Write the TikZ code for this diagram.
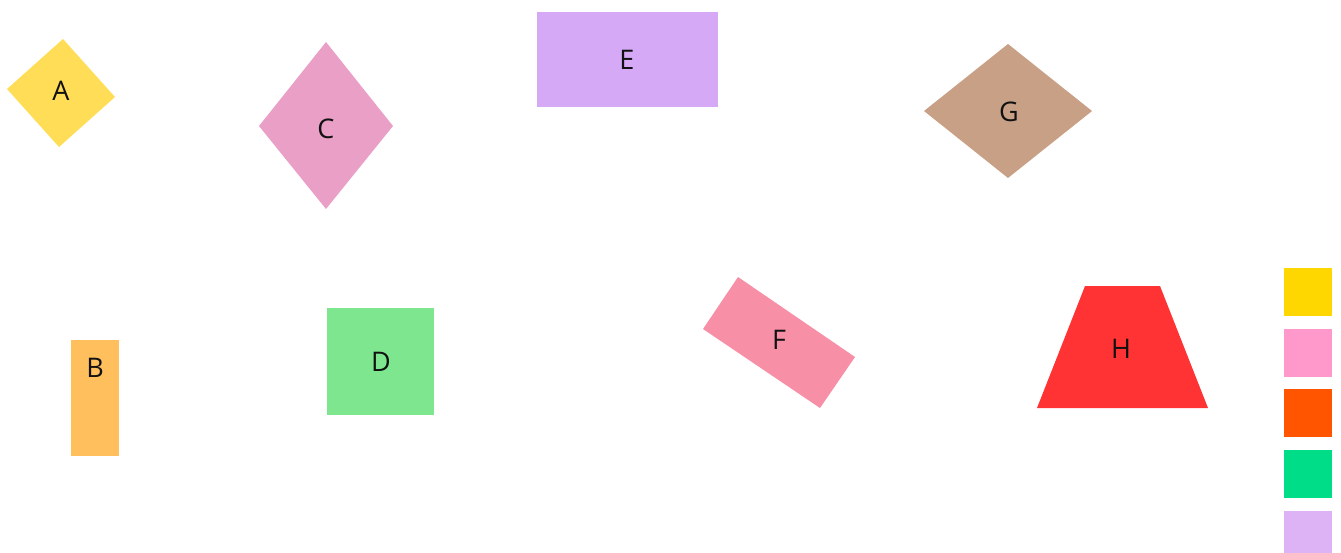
\documentclass[tikz,border=0pt]{standalone}
\usepackage{fontspec}
\setmainfont{Open Sans}
\definecolor{cA}{HTML}{FFDD57}
\definecolor{cB}{HTML}{FFBF5C}
\definecolor{cC}{HTML}{EA9FC6}
\definecolor{cD}{HTML}{7EE68E}
\definecolor{cE}{HTML}{D5A9F5}
\definecolor{cF}{HTML}{F78FA7}
\definecolor{cG}{HTML}{C8A086}
\definecolor{cH}{HTML}{FF3333}
\definecolor{lA}{HTML}{FFD700}
\definecolor{lB}{HTML}{FF99CC}
\definecolor{lC}{HTML}{FF5500}
\definecolor{lD}{HTML}{00DD88}
\definecolor{lE}{HTML}{DDB3F5}
\definecolor{ink}{HTML}{111111}
\begin{document}
\begin{tikzpicture}[x=1pt,y=-1pt,
  lbl/.style={font=\fontsize{27}{32}\selectfont,text=ink,inner sep=0pt},
  legsq/.style={minimum width=48pt,minimum height=48pt,inner sep=0pt,anchor=north west}]
\useasboundingbox (0,0) rectangle (1341,552);
% A
\fill[cA] (63,39) -- (115,97) -- (59,147) -- (7,89) -- cycle;
\node[lbl] (A) at (61,91) {A};
% C
\fill[cC] (326,42) -- (393,126) -- (326,209) -- (259,126) -- cycle;
\node[lbl] (C) at (326,129) {C};
% E
\fill[cE] (537,12) rectangle (718,107);
\node[lbl] (E) at (627,60) {E};
% G
\fill[cG] (1008,44) -- (1092,111) -- (1008,178) -- (924,111) -- cycle;
\node[lbl] (G) at (1009,112) {G};
% B
\fill[cB] (71,340) rectangle (119,456);
\node[lbl] (B) at (95,368) {B};
% D
\fill[cD] (327,308) rectangle (434,415);
\node[lbl] (D) at (381,362) {D};
% F
\fill[cF] (738,277) -- (855,357) -- (820,408) -- (703,329) -- cycle;
\node[lbl] (F) at (779,340) {F};
% H
\fill[cH] (1085,286) -- (1160,286) -- (1208,408) -- (1037,408) -- cycle;
\node[lbl] (H) at (1121,349) {H};
% legend
\node[legsq,fill=lA] (L1) at (1284,268) {};
\node[legsq,fill=lB] (L2) at (1284,329) {};
\node[legsq,fill=lC] (L3) at (1284,389) {};
\node[legsq,fill=lD] (L4) at (1284,450) {};
\node[legsq,fill=lE] (L5) at (1284,511) {};
\end{tikzpicture}
\end{document}
